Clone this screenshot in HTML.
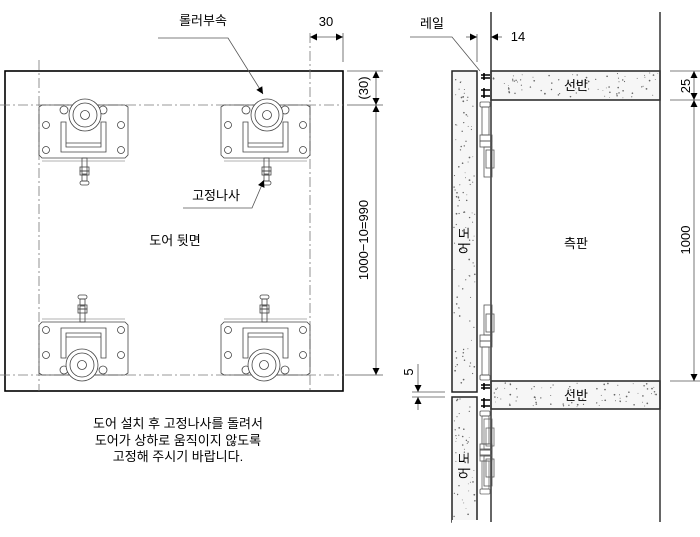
<!DOCTYPE html>
<html><head><meta charset="utf-8">
<style>
html,body{margin:0;padding:0;background:#fff;}
svg{display:block;font-family:"Liberation Sans","Noto Sans CJK KR",sans-serif;}
</style></head>
<body>
<svg id="s" width="700" height="537" viewBox="0 0 700 537" xmlns="http://www.w3.org/2000/svg">
<defs>
<marker id="a" viewBox="0 0 10 10" refX="10" refY="5" markerWidth="9" markerHeight="7" orient="auto-start-reverse" markerUnits="userSpaceOnUse"><path d="M0,0 L10,5 L0,10z" fill="#000"/></marker>
<g id="hw" fill="none" stroke="#444" stroke-width="0.8">
  <path d="M0,2 L3,0 L86,0 L89,2 L89,50 L86,53 L3,53 L0,50 Z"/>
  <line x1="3" y1="56" x2="86" y2="56" stroke="#999"/>
  <circle cx="7" cy="20" r="3.5"/><circle cx="82" cy="20" r="3.5"/>
  <circle cx="7" cy="45" r="3.5"/><circle cx="82" cy="45" r="3.5"/>
  <circle cx="25" cy="5" r="4"/><circle cx="64" cy="5" r="4"/>
  <path d="M22,17 L27,17 L27,42 L62,42 L62,17 L67,17 L67,47 L22,47 Z"/>
  <line x1="27" y1="38" x2="62" y2="38"/>
  <circle cx="46" cy="10" r="16" fill="#fff"/><circle cx="46" cy="10" r="12"/><circle cx="46" cy="10" r="4.5"/>
  <rect x="43" y="53" width="5" height="16"/>
  <rect x="41" y="62" width="9" height="4"/><rect x="41" y="66" width="9" height="4"/>
  <rect x="43" y="70" width="5" height="6"/>
  <rect x="41" y="76" width="9" height="4" rx="2"/>
</g>
<g id="sideHw" fill="none" stroke="#555" stroke-width="0.8">
  <rect x="0" y="0" width="10" height="5" rx="1"/>
  <rect x="2" y="5" width="7" height="28"/>
  <rect x="0" y="33" width="12" height="6"/>
  <rect x="0" y="39" width="12" height="6"/>
  <rect x="4" y="45" width="8" height="30"/>
  <rect x="6" y="48" width="8" height="18"/>
</g>
</defs>

<rect x="5" y="71" width="338" height="320" fill="none" stroke="#000" stroke-width="1.6"/>
<g stroke="#777" stroke-width="0.8" stroke-dasharray="10,3,2,3" fill="none">
<line x1="39" y1="60" x2="39" y2="391"/>
<line x1="310" y1="33" x2="310" y2="391"/>
<line x1="0" y1="105" x2="343" y2="105"/>
<line x1="0" y1="375" x2="343" y2="375"/>
</g>
<use href="#hw" x="39" y="105"/>
<use href="#hw" x="221" y="105"/>
<use href="#hw" transform="translate(128,375) scale(-1,-1)"/>
<use href="#hw" transform="translate(310,375) scale(-1,-1)"/>

<text x="175" y="245" font-size="13" text-anchor="middle">도어 뒷면</text>
<text x="203" y="25" font-size="13" text-anchor="middle">롤러부속</text>
<polyline points="158,38 228,38 263,94" fill="none" stroke="#555" stroke-width="0.8" marker-end="url(#a)"/>
<text x="216" y="200" font-size="13" text-anchor="middle">고정나사</text>
<polyline points="183,208 252,208 264,180" fill="none" stroke="#555" stroke-width="0.8" marker-end="url(#a)"/>

<g stroke="#555" stroke-width="0.8" fill="none">
<line x1="343" y1="33" x2="343" y2="62"/>
<line x1="310" y1="37" x2="343" y2="37" marker-start="url(#a)" marker-end="url(#a)"/>
<line x1="347" y1="71" x2="383" y2="71"/>
<line x1="347" y1="105" x2="383" y2="105"/>
<line x1="345" y1="375" x2="383" y2="375"/>
<line x1="376" y1="71" x2="376" y2="105" marker-start="url(#a)" marker-end="url(#a)"/>
<line x1="376" y1="105" x2="376" y2="375" marker-start="url(#a)" marker-end="url(#a)"/>
</g>
<text x="326" y="26" font-size="13" text-anchor="middle">30</text>
<text transform="translate(368,88) rotate(-90)" font-size="13" text-anchor="middle">(30)</text>
<text transform="translate(368,240) rotate(-90)" font-size="13" text-anchor="middle">1000−10=990</text>

<g font-size="13" text-anchor="middle">
<text x="178" y="428">도어 설치 후 고정나사를 돌려서</text>
<text x="178" y="445">도어가 상하로 움직이지 않도록</text>
<text x="178" y="461">고정해 주시기 바랍니다.</text>
</g>

<rect x="452" y="71" width="25" height="321" fill="#f6f6f6" stroke="#222" stroke-width="1.5"/>
<rect x="452" y="397" width="25" height="125" fill="#f6f6f6" stroke="#222" stroke-width="1.5"/>
<rect x="491" y="71" width="169" height="29" fill="#f6f6f6" stroke="#222" stroke-width="1.5"/>
<rect x="491" y="381" width="169" height="28" fill="#f6f6f6" stroke="#222" stroke-width="1.5"/>
<rect x="452" y="520" width="26" height="20" fill="#fff"/>
<g id="dots" fill="#666"></g>
<line x1="491" y1="12" x2="491" y2="522" stroke="#333" stroke-width="1.5"/>
<line x1="660" y1="12" x2="660" y2="522" stroke="#333" stroke-width="1.5"/>

<g fill="none" stroke="#000" stroke-width="1.6">
<path d="M484,73 L484,80 M481,75 L490,75 M481,78 L490,78 M484,88 L484,98 M481,90 L490,90 M481,96 L490,96"/>
<path d="M484,383 L484,390 M481,385 L490,385 M481,388 L490,388 M484,398 L484,408 M481,400 L490,400 M481,406 L490,406"/>
</g>
<use href="#sideHw" x="480" y="102"/>
<use href="#sideHw" transform="translate(480,380) scale(1,-1)"/>
<use href="#sideHw" x="480" y="411"/>
<use href="#sideHw" transform="translate(480,494) scale(1,-1)" opacity="0.9"/>

<text x="576" y="90" font-size="13" text-anchor="middle">선반</text>
<text x="576" y="400" font-size="13" text-anchor="middle">선반</text>
<text x="576" y="248" font-size="13" text-anchor="middle">측판</text>
<g font-size="13" text-anchor="middle">
<text transform="translate(469,233) rotate(-90)" dy="0">도</text>
<text transform="translate(469,248) rotate(-90)">어</text>
<text transform="translate(469,458) rotate(-90)">도</text>
<text transform="translate(469,473) rotate(-90)">어</text>
</g>

<text x="432" y="28" font-size="13" text-anchor="middle">레일</text>
<polyline points="410,37 452,37 480,71" fill="none" stroke="#555" stroke-width="0.8"/>
<g stroke="#555" stroke-width="0.8" fill="none">
<line x1="477" y1="34" x2="477" y2="62"/>
<line x1="466" y1="37" x2="477" y2="37" marker-end="url(#a)"/>
<line x1="502" y1="37" x2="491" y2="37" marker-end="url(#a)"/>
<line x1="670" y1="71" x2="700" y2="71"/>
<line x1="670" y1="100" x2="700" y2="100"/>
<line x1="670" y1="381" x2="700" y2="381"/>
<line x1="694" y1="71" x2="694" y2="100" marker-start="url(#a)" marker-end="url(#a)"/>
<line x1="694" y1="100" x2="694" y2="381" marker-start="url(#a)" marker-end="url(#a)"/>
<line x1="412" y1="392" x2="445" y2="392"/>
<line x1="412" y1="397" x2="445" y2="397"/>
<line x1="418" y1="364" x2="418" y2="392" marker-end="url(#a)"/>
<line x1="418" y1="410" x2="418" y2="397" marker-end="url(#a)"/>
</g>
<text x="518" y="41" font-size="13" text-anchor="middle">14</text>
<text transform="translate(690,86) rotate(-90)" font-size="13" text-anchor="middle">25</text>
<text transform="translate(690,240) rotate(-90)" font-size="13" text-anchor="middle">1000</text>
<text transform="translate(413,372) rotate(-90)" font-size="13" text-anchor="middle">5</text>
</svg>
<script>
(function(){
var g=document.getElementById('dots');var seed=7;
function r(){seed=(seed*9301+49297)%233280;return seed/233280;}
var areas=[[454,73,21,317,110],[454,399,21,120,45],[493,73,165,25,80],[493,383,165,24,80]];
var ns='http://www.w3.org/2000/svg';
areas.forEach(function(a){for(var i=0;i<a[4];i++){var c=document.createElementNS(ns,'circle');c.setAttribute('cx',(a[0]+r()*a[2]).toFixed(1));c.setAttribute('cy',(a[1]+r()*a[3]).toFixed(1));c.setAttribute('r',(0.4+r()*0.5).toFixed(2));g.appendChild(c);}});
})();
</script>
</body></html>
